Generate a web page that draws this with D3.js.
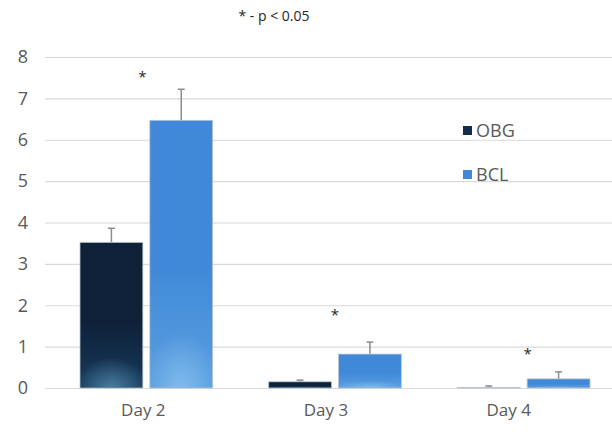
<!DOCTYPE html>
<html>
<head>
<meta charset="utf-8">
<script src="https://cdn.jsdelivr.net/npm/d3@7"></script>
<style>
  body { margin: 0; background: #fff; }
  text { font-family: "Open Sans", "Liberation Sans", sans-serif; }
</style>
</head>
<body>
<svg id="chart" width="612" height="435"></svg>
<script>
var days = ['Day 2', 'Day 3', 'Day 4'];
var groups = ['OBG', 'BCL'];
var obgMeans = [3.52, 0.15, 0.01];
var obgErr = [0.34, 0.04, 0.04];
var bclMeans = [6.47, 0.82, 0.22];
var bclErr = [0.75, 0.29, 0.17];
var starAt = [7.55, 1.8, 0.85];   // where the '*' marks sit
var yTicks = [0, 1, 2, 3, 4, 5, 6, 7, 8];

var svg = d3.select('#chart');
var w = 612, h = 435;

var y = d3.scaleLinear().domain([0, 8]).range([388, 57]);
var x0 = d3.scaleBand().domain(days).range([52, 618]);
var x1 = d3.scaleBand().domain(groups)
    .range([28, x0.bandwidth() - 28]).paddingInner(0.1);

var defs = svg.append('defs');
function grad(id, top, bottom, glow){
  var lg = defs.append('linearGradient').attr('id', id)
      .attr('x1', 0).attr('y1', 0).attr('x2', 0).attr('y2', 1);
  lg.append('stop').attr('offset', '0%').attr('stop-color', top);
  lg.append('stop').attr('offset', '55%').attr('stop-color', top);
  lg.append('stop').attr('offset', '100%').attr('stop-color', bottom);
  var rg = defs.append('radialGradient').attr('id', id + 'Glow')
      .attr('cx', 0.5).attr('cy', 1).attr('r', 0.6)
      .attr('gradientTransform', 'translate(0.5,1) scale(1,0.35) translate(-0.5,-1)');
  rg.append('stop').attr('offset', '0%').attr('stop-color', glow).attr('stop-opacity', 0.75);
  rg.append('stop').attr('offset', '100%').attr('stop-color', glow).attr('stop-opacity', 0);
}
grad('gOBG', '#0f2139', '#163a5a', '#5b93b8');
grad('gBCL', '#4189d8', '#5a9fe0', '#8cc3ef');
var fill = {OBG: 'gOBG', BCL: 'gBCL'};
var legendCol = {OBG: '#132c4b', BCL: '#4189d8'};

// title
svg.append('text').attr('x', 274).attr('y', 21).attr('text-anchor', 'middle')
   .attr('font-size', 14).attr('fill', '#262626').text('* - p < 0.05');

// gridlines
var axisY = d3.axisLeft(y).tickValues(yTicks).tickSize(-(w - 45)).tickPadding(17);
var gy = svg.append('g').attr('class', 'yAxis').attr('transform', 'translate(45,0)').call(axisY);
gy.select('.domain').remove();
gy.selectAll('.tick line').attr('stroke', '#d9d9d9').attr('stroke-width', 1.2);
gy.selectAll('.tick text').attr('fill', '#595959').attr('font-size', 18);

// bars
var rows = [];
days.forEach(function(d, i){
  rows.push({day: d, g: 'OBG', v: obgMeans[i], e: obgErr[i]});
  rows.push({day: d, g: 'BCL', v: bclMeans[i], e: bclErr[i]});
});

var plot = svg.append('g');
var bx = function(d){ return x0(d.day) + x1(d.g); };

plot.selectAll('.err').data(rows).enter().append('line')
    .attr('class', 'err')
    .attr('x1', function(d){ return bx(d) + x1.bandwidth() / 2; })
    .attr('x2', function(d){ return bx(d) + x1.bandwidth() / 2; })
    .attr('y1', function(d){ return y(d.v); })
    .attr('y2', function(d){ return y(d.v + d.e); })
    .attr('stroke', '#8c8c8c').attr('stroke-width', 1.5);
plot.selectAll('.cap').data(rows).enter().append('line')
    .attr('class', 'cap')
    .attr('x1', function(d){ return bx(d) + x1.bandwidth() / 2 - 3.5; })
    .attr('x2', function(d){ return bx(d) + x1.bandwidth() / 2 + 3.5; })
    .attr('y1', function(d){ return y(d.v + d.e); })
    .attr('y2', function(d){ return y(d.v + d.e); })
    .attr('stroke', '#8c8c8c').attr('stroke-width', 1.5);

plot.selectAll('.bar').data(rows).enter().append('rect')
    .attr('class', 'bar')
    .attr('x', bx)
    .attr('y', function(d){ return y(d.v); })
    .attr('width', x1.bandwidth())
    .attr('height', function(d){ return y(0) - y(d.v); })
    .attr('fill', function(d){ return 'url(#' + fill[d.g] + ')'; })
    .attr('stroke', '#b8c4d0').attr('stroke-width', 0.8);
plot.selectAll('.glow').data(rows).enter().append('rect')
    .attr('class', 'glow')
    .attr('x', bx)
    .attr('y', function(d){ return y(d.v); })
    .attr('width', x1.bandwidth())
    .attr('height', function(d){ return y(0) - y(d.v); })
    .attr('fill', function(d){ return 'url(#' + fill[d.g] + 'Glow)'; });

// significance stars
plot.selectAll('.star').data(days).enter().append('text')
    .attr('class', 'star')
    .attr('x', function(d, i){ return x0(d) + x0.bandwidth() / 2 - 4 + i * 4; })
    .attr('y', function(d, i){ return y(starAt[i]) + 6; })
    .attr('text-anchor', 'middle').attr('font-size', 15).attr('fill', '#262626')
    .text('*');

// x axis
var axisX = d3.axisBottom(x0).tickSize(0).tickPadding(16);
var gx = svg.append('g').attr('transform', 'translate(0,' + y(0) + ')').call(axisX);
gx.select('.domain').remove();
gx.selectAll('.tick text').attr('fill', '#595959').attr('font-size', 17)
    .attr('dx', function(d, i){ return -3 - i * 6; });

// legend
var leg = svg.append('g').attr('transform', 'translate(463,126)');
var li = leg.selectAll('g').data(groups).enter().append('g')
    .attr('transform', function(d, i){ return 'translate(0,' + i * 44 + ')'; });
li.append('rect').attr('width', 9).attr('height', 9)
    .attr('fill', function(d){ return legendCol[d]; });
li.append('text').attr('x', 13).attr('y', 11).attr('font-size', 18)
    .attr('fill', '#595959').text(function(d){ return d; });
</script>
</body>
</html>
